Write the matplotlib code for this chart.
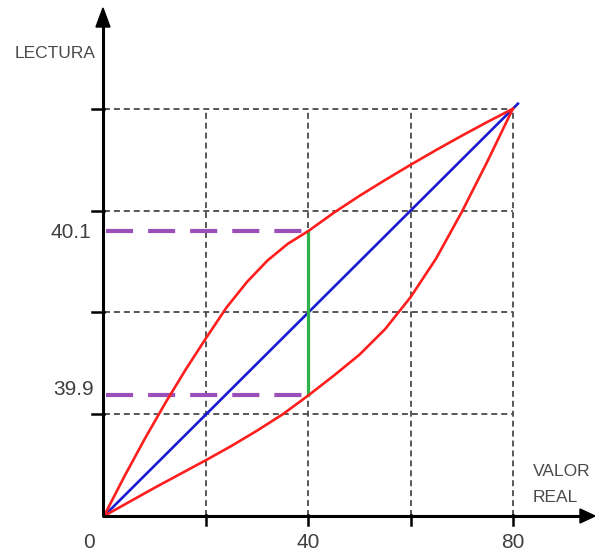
import matplotlib
matplotlib.use("Agg")
import matplotlib.pyplot as plt
from matplotlib.patches import Polygon

# ---- data (schematic hysteresis chart) ----
grid_ticks = [20, 40, 60, 80]

upper_x = [0, 4, 8, 12, 16, 20, 24, 28, 32, 36, 40, 45, 50, 55, 60, 65, 70, 75, 80]
upper_y = [0, 7.8, 15.2, 22.2, 28.8, 35.0, 41.0, 46.0, 50.2, 53.5, 56.0,
           59.6, 62.9, 66.0, 69.0, 71.9, 74.7, 77.4, 80]

lower_x = [0, 5, 10, 15, 20, 25, 30, 35, 40, 45, 50, 55, 60, 65, 70, 75, 80]
lower_y = [0, 2.8, 5.6, 8.3, 11.0, 13.8, 16.8, 20.0, 23.7, 27.6, 31.7,
           36.7, 43.0, 50.6, 59.7, 69.6, 80]

ideal_x = [0, 81]
ideal_y = [0, 81]

mark_x = 40
mark_hi = 56.0
mark_lo = 23.7

x_label_pos = [0, 40, 80]
x_label_txt = ["0", "40", "80"]
y_label_txt = ["40.1", "39.9"]

# ---- figure ----
W, H = 595, 554
fig = plt.figure(figsize=(W / 100, H / 100), dpi=100)
ax = fig.add_axes([0, 0, 1, 1])
ox, oy = 104, 516       # origin pixel
sx, sy = 5.11, 5.09     # pixels per unit
ax.set_xlim(-ox / sx, (W - ox) / sx)
ax.set_ylim(-(H - oy) / sy, oy / sy)
ax.axis("off")

font = "Liberation Sans"
tcol = "#404040"

# grid
gcol = "#4a4a4a"
for g in grid_ticks:
    ax.plot([0, 80], [g, g], color=gcol, lw=1.3, dashes=(3.3, 2.2), zorder=1)
    ax.plot([g, g], [0, 80], color=gcol, lw=1.3, dashes=(3.3, 2.2), zorder=1)

# curves
ax.plot(ideal_x, ideal_y, color="#1a1ad0", lw=1.9, zorder=3)
ax.plot(upper_x, upper_y, color="#ff1e1e", lw=1.9, zorder=4,
        solid_joinstyle="round")
ax.plot(lower_x, lower_y, color="#ff1e1e", lw=1.9, zorder=4,
        solid_joinstyle="round")

# purple dashed reference lines
pcol = "#9b4fb8"
ax.plot([0.3, mark_x], [mark_hi, mark_hi], color=pcol, lw=3.0, dashes=(6.5, 3.6), zorder=2)
ax.plot([0.3, mark_x], [mark_lo, mark_lo], color=pcol, lw=3.0, dashes=(6.5, 3.6), zorder=2)

# green span
ax.plot([mark_x, mark_x], [mark_lo, mark_hi], color="#2fb24a", lw=2.3, zorder=3)

# axes with arrows
ax.plot([-0.2, -0.2], [0, 96.5], color="black", lw=2.2, zorder=5, solid_capstyle="butt")
ax.plot([-0.4, 93.5], [0, 0], color="black", lw=2.2, zorder=5, solid_capstyle="butt")
ax.add_patch(Polygon([[-0.2, (oy - 8) / sy], [-0.2 - 7 / sx, (oy - 27) / sy],
                      [-0.2 + 7 / sx, (oy - 27) / sy]], closed=True,
                     color="black", zorder=5))
ax.add_patch(Polygon([[(W - ox) / sx, 0], [(580 - ox) / sx, 7 / sy],
                      [(580 - ox) / sx, -7 / sy]], closed=True,
                     color="black", zorder=5))

# ticks
for g in grid_ticks:
    ax.plot([-12 / sx, 0], [g, g], color="black", lw=1.8, zorder=5)
    ax.plot([g, g], [1 / sy, -9 / sy], color="black", lw=1.8, zorder=5)

# tick labels
for p, t in zip(x_label_pos, x_label_txt):
    xp = p if p != 0 else -15 / sx
    ax.text(xp, -26 / sy, t, ha="center", va="center", fontsize=15,
            family=font, color=tcol)
ax.text(-13 / sx, mark_hi - 0.4, y_label_txt[0], ha="right", va="center",
        fontsize=15, family=font, color=tcol)
ax.text(-10 / sx, mark_lo + 1.2, y_label_txt[1], ha="right", va="center",
        fontsize=15, family=font, color=tcol)

# axis titles
ax.text((55 - ox) / sx, (oy - 53) / sy, "LECTURA", ha="center", va="center",
        fontsize=12.5, family=font, color="#4a4a4a")
ax.text((533 - ox) / sx, (oy - 471) / sy, "VALOR", ha="left", va="center",
        fontsize=12.5, family=font, color="#4a4a4a")
ax.text((533 - ox) / sx, (oy - 497) / sy, "REAL", ha="left", va="center",
        fontsize=12.5, family=font, color="#4a4a4a")

fig.savefig("out.png", dpi=100, facecolor="white")
